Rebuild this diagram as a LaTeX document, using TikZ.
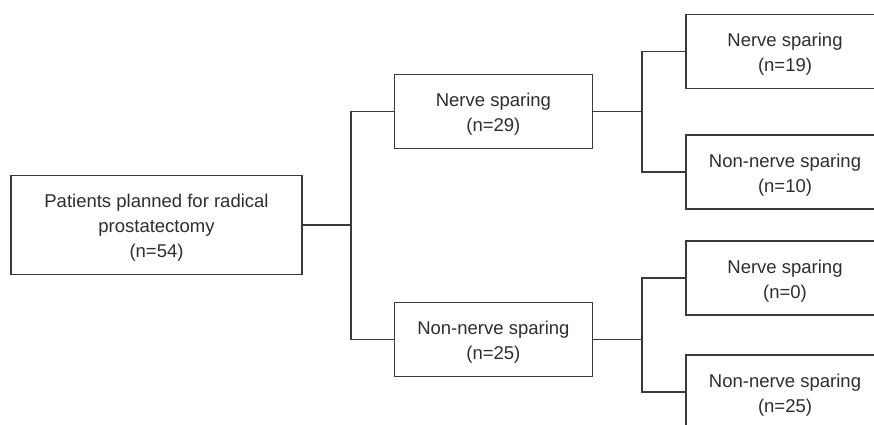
\documentclass[tikz,border=0pt]{standalone}
\usepackage{fontspec}
\setmainfont{Liberation Sans}
\newcommand{\tallstrut}{\rule{0pt}{19.5pt}}
\begin{document}
\begin{tikzpicture}[x=1pt,y=-1pt,
  box/.style={draw=linegray, line width=1.1pt, rectangle, inner sep=0pt, align=center,
    text=textgray, font=\fontsize{18.5pt}{25pt}\selectfont, minimum width=198pt, minimum height=74pt},
  link/.style={draw=linegray, line width=1.1pt}]
\definecolor{linegray}{HTML}{3A3A3A}
\definecolor{textgray}{HTML}{2E2E2E}
\clip (0,0) rectangle (874,424);
\fill[white] (0,0) rectangle (874,424);
\node[box, minimum width=291pt, minimum height=98.6pt] (root) at (156.5,225) {\tallstrut Patients planned for radical\\prostatectomy\\(n=54)};
\node[box] (A) at (493.4,111.2) {\tallstrut Nerve sparing\\(n=29)};
\node[box] (B) at (493.4,339.5) {\tallstrut Non-nerve sparing\\(n=25)};
\node[box] (A1) at (785,51.3) {\tallstrut Nerve sparing\\(n=19)};
\node[box] (A2) at (785,172) {\tallstrut Non-nerve sparing\\(n=10)};
\node[box] (B1) at (785,278) {\tallstrut Nerve sparing\\(n=0)};
\node[box] (B2) at (785,392) {\tallstrut Non-nerve sparing\\(n=25)};
\coordinate (j1) at (351,225);
\coordinate (j2) at (642,111.2);
\coordinate (j3) at (642,339.5);
\draw[link] (root.east) -- (j1);
\draw[link] (A.west) -| (j1);
\draw[link] (B.west) -| (j1);
\draw[link] (A.east) -- (j2);
\draw[link] (A1.west) -| (j2);
\draw[link] (A2.west) -| (j2);
\draw[link] (B.east) -- (j3);
\draw[link] (B1.west) -| (j3);
\draw[link] (B2.west) -| (j3);
\end{tikzpicture}
\end{document}
